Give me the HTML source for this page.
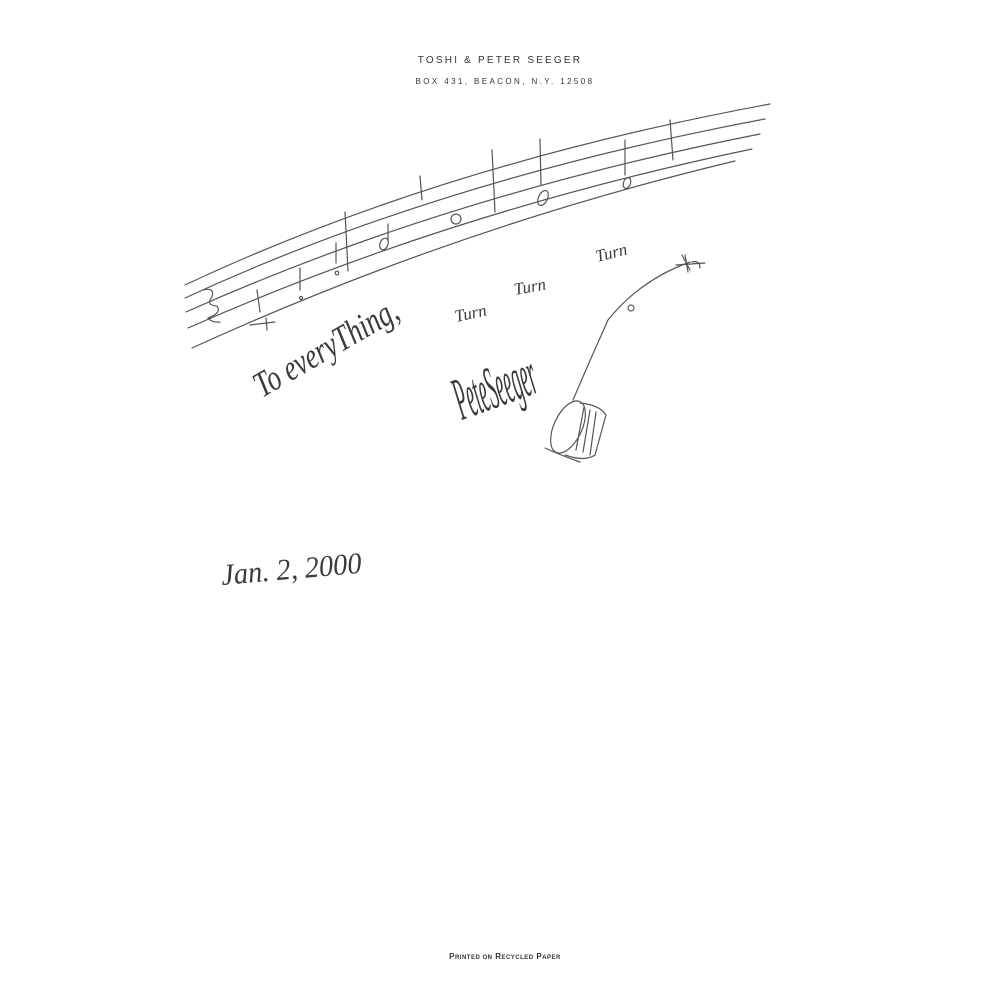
<!DOCTYPE html>
<html><head><meta charset="utf-8"><style>
html,body{margin:0;padding:0;background:#fff;}
svg{display:block}
.hw{font-family:"Liberation Serif",serif;font-style:italic;fill:#3a3a3a;}
</style></head><body>
<svg width="1000" height="1000" viewBox="0 0 1000 1000" xmlns="http://www.w3.org/2000/svg">
<rect width="1000" height="1000" fill="#fff"/>
<text x="500" y="63" text-anchor="middle" font-family="Liberation Sans,sans-serif" font-size="10" letter-spacing="2.2" fill="#333">TOSHI &amp; PETER SEEGER</text>
<text x="505" y="84" text-anchor="middle" font-family="Liberation Sans,sans-serif" font-size="8" letter-spacing="2.4" fill="#333">BOX 431, BEACON, N.Y. 12508</text>
<g fill="none" stroke="#555" stroke-width="1.2" stroke-linecap="round">
<path d="M185 285 Q440 165 770 104"/>
<path d="M185 298 Q440 180 765 119"/>
<path d="M186 312 Q445 196 760 134"/>
<path d="M188 328 Q450 212 752 149"/>
<path d="M192 348 Q455 228 735 161"/>
<path d="M345 212 L348 271"/>
<path d="M492 150 L495 212"/>
<path d="M540 139 L541 185"/>
<path d="M625 140 L625 175"/>
<path d="M670 120 L673 160"/>
<path d="M203 290 Q215 287 212 297 Q205 305 217 306 Q222 313 208 318 Q212 323 220 322"/>
<path d="M257 290 L260 312 M250 325 L275 322 M266 318 L267 330"/>
<path d="M300 268 L300 290"/><circle cx="301" cy="298" r="1.5"/>
<path d="M336 243 L336 263"/><circle cx="337" cy="273" r="1.8"/>
<path d="M388 224 L388 240"/><ellipse cx="384" cy="244" rx="4" ry="6" transform="rotate(20 384 244)"/>
<ellipse cx="456" cy="219" rx="5" ry="5" transform="rotate(30 456 219)"/>
<path d="M420 176 L422 200"/>
<ellipse cx="543" cy="198" rx="4.5" ry="8" transform="rotate(25 543 198)"/>
<ellipse cx="627" cy="183" rx="3.5" ry="5.5" transform="rotate(20 627 183)"/>
<path d="M573 400 Q590 360 608 320 Q640 280 690 262"/>
<circle cx="631" cy="308" r="3"/>
<path d="M682 255 L690 270 M685 255 L688 272 M676 265 L705 263 M692 262 Q700 260 700 268"/>
<ellipse cx="568" cy="427" rx="14" ry="28" transform="rotate(25 568 427)"/>
<path d="M580 403 Q600 405 606 415 L595 455 Q585 462 565 455"/>
<path d="M590 410 L583 452 M596 412 L590 455 M584 407 L576 450"/>
<path d="M545 448 Q560 455 580 462"/>
</g>
<text class="hw" font-size="36" transform="translate(262,398) rotate(-30) scale(0.75,1)">To everyThing,</text>
<text class="hw" font-size="17" transform="translate(456,322) rotate(-12)">Turn</text>
<text class="hw" font-size="17" transform="translate(515,295) rotate(-10)">Turn</text>
<text class="hw" font-size="17" transform="translate(597,262) rotate(-14)">Turn</text>
<text class="hw" font-size="34" transform="translate(462,420) rotate(-20) scale(0.55,1.8)">PeteSeeger</text>
<text class="hw" font-size="30" transform="translate(222,585) rotate(-5) scale(0.95,1)">Jan. 2, 2000</text>
<text x="505" y="959" text-anchor="middle" font-family="Liberation Sans,sans-serif" font-size="8" letter-spacing="0.5" fill="#333" font-weight="bold">P<tspan font-size="6">RINTED ON</tspan> R<tspan font-size="6">ECYCLED</tspan> P<tspan font-size="6">APER</tspan></text>
</svg>
</body></html>
